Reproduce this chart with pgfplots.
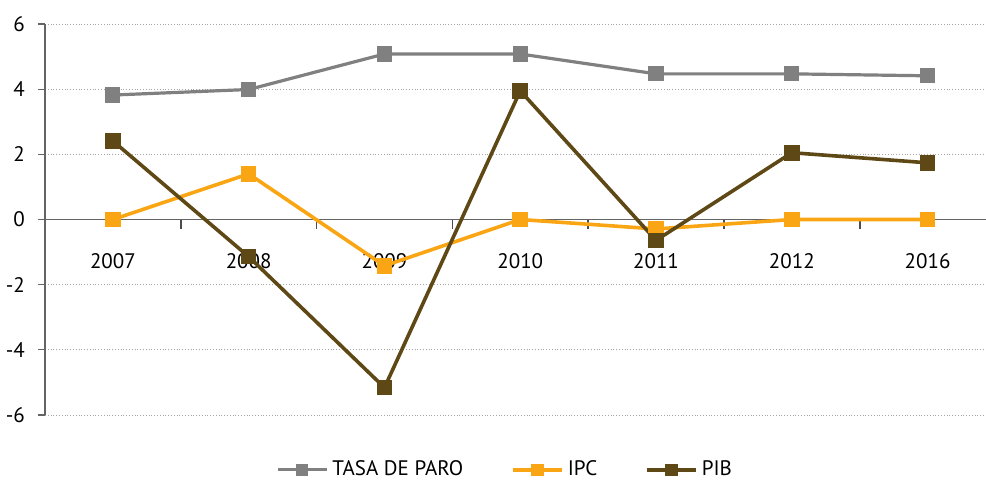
\documentclass[border=0pt]{standalone}
\usepackage{fontspec}
\setmainfont{PT Sans}
\usepackage{pgfplots}
\pgfplotsset{compat=1.18}
\definecolor{paro}{RGB}{128,128,128}
\definecolor{ipc}{RGB}{250,166,20}
\definecolor{pib}{RGB}{94,72,22}
\definecolor{axgray}{RGB}{100,100,100}
\begin{document}
\begin{tikzpicture}
\useasboundingbox (-22.5pt,-32pt) rectangle (470.5pt,207.5pt);
\begin{axis}[
 at={(0,0)}, anchor=south west,
 scale only axis, width=470.5pt, height=195.5pt,
 xmin=-0.5, xmax=6.43, ymin=-6, ymax=6,
 axis y line=left, axis x line=middle,
 axis line style={-, draw=axgray, line width=0.6pt},
 ytick={-6,-4,...,6}, yticklabels={-6,-4,-2,0,2,4,6},
 xtick={0,...,6}, xticklabels={2007,2008,2009,2010,2011,2012,2016},
 xtick style={draw=none},
 ytick style={draw=axgray, line width=0.6pt},
 tick align=outside, major tick length=3.5pt,
 hide obscured x ticks=false, hide obscured y ticks=false,
 ymajorgrids, grid style={densely dotted, gray!70},
 ticklabel style={font=\fontsize{10.5}{12}\selectfont},
 xticklabel style={yshift=-10pt},
 yticklabel style={xshift=-3pt},
 unbounded coords=jump,
 legend style={at={(0.49,-0.14)}, anchor=center, draw=none, legend columns=3,
   font=\fontsize{10.5}{12}\selectfont,
   /tikz/every even column/.append style={column sep=22pt}},
 legend image code/.code={\draw[mark repeat=2,mark phase=2,mark size=2.2pt,#1] plot coordinates {(0pt,0pt) (12.25pt,0pt) (24.5pt,0pt)};},
]
\addplot[draw=black!70, line width=0.8pt, no marks, forget plot] coordinates {
 (0.5,0) (0.5,-0.28) (0.5,nan)
 (1.5,0) (1.5,-0.28) (1.5,nan)
 (2.5,0) (2.5,-0.28) (2.5,nan)
 (3.5,0) (3.5,-0.28) (3.5,nan)
 (4.5,0) (4.5,-0.28) (4.5,nan)
 (5.5,0) (5.5,-0.28)};
\addplot[paro, line width=1.6pt, mark=square*, mark size=3pt, mark options={solid}] coordinates {(0,3.82) (1,3.99) (2,5.08) (3,5.08) (4,4.47) (5,4.47) (6,4.41)};
\addlegendentry{TASA DE PARO}
\addplot[ipc, line width=1.8pt, mark=square*, mark size=3pt, mark options={solid}] coordinates {(0,0) (1,1.40) (2,-1.42) (3,0) (4,-0.29) (5,0) (6,0)};
\addlegendentry{IPC}
\addplot[pib, line width=1.8pt, mark=square*, mark size=3pt, mark options={solid}] coordinates {(0,2.41) (1,-1.14) (2,-5.16) (3,3.95) (4,-0.64) (5,2.05) (6,1.74)};
\addlegendentry{PIB}
\end{axis}
\end{tikzpicture}
\end{document}
